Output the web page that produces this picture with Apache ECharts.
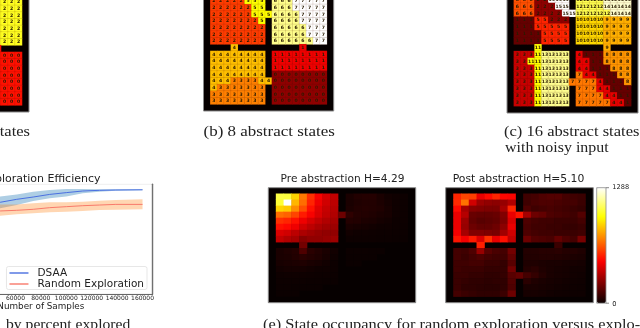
<!DOCTYPE html>
<html><head><meta charset="utf-8">
<style>html,body{margin:0;padding:0;background:#fff;overflow:hidden}#c{width:640px;height:328px;filter:blur(0.4px)}</style>
<script src="https://cdn.jsdelivr.net/npm/echarts@6/dist/echarts.min.js"></script>
</head><body><div id="c"></div>
<script>
// State grids: rows listed down to the bottom wall; '.' is a wall, hex digit is the abstract state.
const statesA = [
"..........22222222.","..........22222222.","..........22222222.","..........22222222.",
"..........22222222.","..........22222222.","..........22222222.",
"..............0....",
"..........00000000.","..........00000000.","..........00000000.","..........00000000.",
"..........00000000.","..........00000000.","..........00000000.","..........00000000.",
"..................."];
const statesB = [
".22222555.66677777.",".22222255.66677777.",".22222255566667777.",".22222225.66667777.",
".22222222.66666777.",".22222222.66666777.",".22222222.66666677.",
"....4.........1....",
".44444444.11111111.",".44444444.11111111.",".44444444.11111111.",".44444444.00000000.",
".44433334400000000.",".43333333.00000000.",".33333333.00000000.",".33333333.00000000.",
"..................."];
const statesC = [
".66622fff.cccceeee.",".666222ff.cccceeee.",".6662222ffccccceee.",".11155222.aaaa9999.",
".11155555.aaaa9999.",".11115555.aaaa9999.",".11115555.aaaa9999.",
"....b.........9....",
".333bdddd.41118888.",".33bbdddd.44118888.",".333bdddd.44111888.",".333bdddd.74411188.",
".333bdddd777741118.",".333bdddd.77744111.",".333bdddd.77774411.",".333bdddd.77777441.",
"..................."];
const coloursA = {0:"#ff1000",2:"#ffff20"};
const coloursB = ["#8f0000","#f00000","#ff3c00","#ff8000","#ffc000","#ffff00","#ffff8c","#ffffff"];
const coloursC = ["#300000","#650000","#8f0000","#c80000","#e80000","#ff2400","#ff5000","#ff7800","#ff9600","#ffb000","#ffd800","#ffff00","#ffff50","#ffff90","#ffffd0","#ffffff"];

// Exploration efficiency
const samples  = [40000,48000,61000,74000,87000,100000,113000,126000,139000,160000];
const dsaaMean = [82.7,83.6,86.3,88.4,90.8,92.4,93.9,94.5,94.8,95.0];
const dsaaHigh = [87.2,88.8,90.8,93.3,94.8,95.7,95.7,95.4,95.4,95.4];
const dsaaLow  = [76.6,78.1,81.1,84.8,87.2,88.8,91.8,93.3,94.2,94.5];
const randMean = [75.3,75.7,76.3,77.2,78.7,79.6,80.5,81.1,81.7,81.7];
const randHigh = [81.4,81.7,81.7,82.7,83.6,83.6,84.2,85.1,85.7,86.3];
const randLow  = [70.8,71.4,72.6,73.5,74.5,75.0,75.6,76.6,76.9,77.2];
const sampleTicks = [0,20000,40000,60000,80000,100000,120000,140000,160000];

// State occupancy
const occupancyPre = [
[0,0,0,0,0,0,0,0,0,0,0,0,0,0,0,0,0,0,0],
[0,1050,1040,880,700,560,460,390,350,0,30,45,50,50,30,15,10,5,0],
[0,1030,1288,820,680,540,440,380,340,0,30,40,45,45,35,20,10,5,0],
[0,880,860,740,620,500,410,360,330,0,35,45,50,45,40,25,10,5,0],
[0,680,660,600,520,460,400,350,320,190,70,50,45,40,30,25,10,5,0],
[0,560,540,500,440,390,350,320,300,0,50,45,35,30,20,15,5,5,0],
[0,500,480,440,380,340,310,290,280,0,30,25,20,15,10,10,5,3,0],
[0,400,380,340,310,290,270,260,260,0,15,10,10,8,5,5,3,3,0],
[0,350,320,300,240,260,260,270,280,0,5,5,5,5,3,3,2,2,0],
[0,0,0,0,200,0,0,0,0,0,0,0,0,0,0,0,0,0,0],
[0,30,40,50,130,60,45,30,15,0,3,3,3,2,2,0,0,0,0],
[0,30,35,45,60,50,40,25,10,0,2,2,2,2,0,0,0,0,0],
[0,25,30,35,40,30,25,15,5,0,2,2,0,0,0,0,0,0,0],
[0,15,20,20,20,15,10,10,5,0,0,0,0,0,0,0,0,0,0],
[0,8,10,10,10,8,5,5,3,0,0,0,0,0,0,0,0,0,0],
[0,5,5,5,5,3,3,2,2,0,0,0,0,0,0,0,0,0,0],
[0,3,3,2,2,2,2,0,0,0,0,0,0,0,0,0,0,0,0],
[0,2,2,2,0,0,0,0,0,0,0,0,0,0,0,0,0,0,0],
[0,0,0,0,0,0,0,0,0,0,0,0,0,0,0,0,0,0,0]];
const occupancyPost = [
[0,0,0,0,0,0,0,0,0,0,0,0,0,0,0,0,0,0,0],
[0,540,600,590,430,490,540,480,470,0,100,110,130,140,140,110,100,90,0],
[0,550,690,380,280,260,250,270,320,0,100,120,130,130,120,110,110,90,0],
[0,490,300,240,230,220,220,300,540,0,130,100,110,120,110,100,90,80,0],
[0,430,330,180,170,170,180,230,430,510,300,190,170,130,120,110,100,140,0],
[0,430,280,170,150,160,170,220,400,0,130,110,100,100,90,90,90,110,0],
[0,430,270,190,170,170,190,250,430,0,120,100,100,90,90,80,80,90,0],
[0,450,300,230,230,220,210,290,380,0,130,110,100,100,90,90,90,100,0],
[0,510,450,520,400,560,430,500,350,0,190,140,130,120,170,130,110,210,0],
[0,0,0,0,530,0,0,0,0,0,0,0,0,0,90,0,0,0,0],
[0,110,100,130,270,150,120,110,200,0,50,50,55,55,60,50,50,40,0],
[0,110,90,110,130,110,100,100,170,0,45,45,50,50,45,40,35,30,0],
[0,100,100,110,110,90,90,80,150,0,40,40,35,30,30,25,25,20,0],
[0,100,90,90,90,80,80,80,200,0,50,60,40,30,25,20,15,15,0],
[0,90,90,80,80,70,70,80,150,170,110,80,50,30,25,20,15,12,0],
[0,90,80,70,70,65,70,70,140,0,60,40,30,25,20,15,12,10,0],
[0,90,70,70,65,60,60,70,130,0,30,30,25,20,15,12,10,8,0],
[0,110,90,80,70,70,70,90,190,0,25,25,20,15,12,10,8,8,0],
[0,0,0,0,0,0,0,0,0,0,0,0,0,0,0,0,0,0,0]];
const occupancyMax = 1288;

const cellIndex = Array.from({length:19},(_,i)=>String(i));
const black = "#060000";

function hot(t){
  const c=v=>Math.round(255*Math.max(0,Math.min(1,v)));
  return `rgb(${c(0.04+t/0.365*0.96)},${c((t-0.365)/0.381)},${c((t-0.746)/0.254)})`;
}
const hotStops = Array.from({length:41},(_,i)=>hot(i/40));

function stateCells(rows, colours){
  const out=[], first=19-rows.length;
  rows.forEach((row,r)=>{[...row].forEach((ch,c)=>{
    if(ch==='.')return;
    const s=parseInt(ch,16);
    out.push({value:[c,first+r,s],itemStyle:{color:colours[s]}});
  });});
  return out;
}
function occupancyCells(rows){
  const out=[];
  rows.forEach((row,r)=>row.forEach((v,c)=>{ if(v>0) out.push([c,r,v]); }));
  return out;
}
function zip(xs,ys){return xs.map((x,i)=>[x,ys[i]]);}

const grids=[
 {left:-104,top:-14.7,width:133,height:126.7},
 {left:203.5,top:-15.7,width:130.2,height:126.7},
 {left:507,top:-17.6,width:131,height:130.6},
 {left:-71,top:184.3,width:223.7,height:109.7},
 {left:268.3,top:187.7,width:147.4,height:115},
 {left:445.7,top:187.7,width:147.6,height:115}
].map((g,i)=>Object.assign({show:true,outerBoundsMode:"none",containLabel:false,backgroundColor:i===3?"#fff":black,borderWidth:i===3?0.6:1,borderColor:i===3?"#e2e2e2":"#8a8a8a"},g));

function catAxis(i,inv){return {type:"category",gridIndex:i,data:cellIndex,show:false,inverse:!!inv};}
const xAxes=[catAxis(0),catAxis(1),catAxis(2),
 {type:"value",gridIndex:3,min:-8000,max:168000,splitLine:{show:false},
  axisLine:{show:true,onZero:false,lineStyle:{color:"#666",width:1}},
  axisTick:{show:true,length:2,lineStyle:{color:"#666",width:0.6},customValues:sampleTicks},
  axisLabel:{fontSize:6,color:"#222",margin:1.5,fontFamily:"DejaVu Sans",customValues:sampleTicks,hideOverlap:false,formatter:v=>String(v)},
  name:"Number of Samples",nameLocation:"middle",nameGap:7,
  nameTextStyle:{fontSize:8.8,color:"#222",fontFamily:"DejaVu Sans"}},
 catAxis(4),catAxis(5)];
const yAxes=[catAxis(0,1),catAxis(1,1),catAxis(2,1),
 {type:"value",gridIndex:3,min:0,max:100,position:"right",splitLine:{show:false},axisTick:{show:false},axisLabel:{show:false},
  axisLine:{show:true,onZero:false,lineStyle:{color:"#707070",width:1.4}}},
 catAxis(4,1),catAxis(5,1)];

function heat(i,data,label){
  return {type:"heatmap",xAxisIndex:i,yAxisIndex:i,data:data,progressive:0,
    itemStyle:label?{borderColor:"rgba(90,30,0,0.22)",borderWidth:0.5}:{},
    emphasis:{disabled:true},
    label:label?{show:true,fontSize:4.6,color:"#2a1a00",fontFamily:"DejaVu Sans",fontWeight:"bold",formatter:p=>String(p.value[2])}:{show:false}};
}
// Shaded spread between a low and a high curve, drawn through the axis scales.
function band(low,high,colour,key){
  const rows=samples.map((x,i)=>[x,low[i],high[i]]);
  return {type:"custom",name:key,xAxisIndex:3,yAxisIndex:3,data:rows,silent:true,clip:true,z:2,
    encode:{x:0,y:[1,2]},
    renderItem:(params,api)=>{
      if(params.dataIndex!==0)return null;
      const lower=rows.map(r=>api.coord([r[0],r[1]]));
      const upper=rows.map(r=>api.coord([r[0],r[2]])).reverse();
      return {type:"polygon",shape:{points:lower.concat(upper)},style:{fill:colour},silent:true};
    }};
}
function meanLine(name,ys,colour){
  return {type:"line",name:name,xAxisIndex:3,yAxisIndex:3,data:zip(samples,ys),symbol:"none",z:5,itemStyle:{color:colour},lineStyle:{color:colour,width:1}};
}
const series=[
 heat(0,stateCells(statesA,coloursA),true),
 heat(1,stateCells(statesB,coloursB),true),
 heat(2,stateCells(statesC,coloursC),true),
 band(dsaaLow,dsaaHigh,"rgba(31,119,180,0.36)","dsaaBand"),
 band(randLow,randHigh,"rgba(255,127,14,0.32)","randBand"),
 meanLine("DSAA",dsaaMean,"#4a6fe0"),
 meanLine("Random Exploration",randMean,"#f8796a"),
 heat(4,occupancyCells(occupancyPre),false),
 heat(5,occupancyCells(occupancyPost),false)
];

function label(text,x,y,o){
  o=o||{};
  return {type:"text",x:x,y:y,scaleX:o.sx||1,z:20,style:{text:text,fill:o.fill||"#222",align:o.align||"left",verticalAlign:"middle",
    font:`${o.size||10}px ${o.family||"DejaVu Sans"}`}};
}
const serif="Liberation Serif";
const graphics=[
 label("(a) 4 abstract states",30,132,{size:14.5,family:serif,sx:1.14,align:"right"}),
 label("(b) 8 abstract states",203.5,132,{size:14.5,family:serif,sx:1.17}),
 label("(c) 16 abstract states",504,132,{size:14.5,family:serif,sx:1.14}),
 label("with noisy input",505,148,{size:14.5,family:serif,sx:1.10}),
 label("by percent explored",6,325,{size:14.5,family:serif,sx:1.08}),
 label("(e) State occupancy for random exploration versus explo-",263,325,{size:14.5,family:serif,sx:1.13}),
 label("Exploration Efficiency",41,179,{size:11,align:"center"}),
 label("Pre abstraction H=4.29",342.5,179,{size:10.6,align:"center"}),
 label("Post abstraction H=5.10",518.5,179,{size:10.8,align:"center"}),
 label("1288",612.3,187,{size:6.6}),
 label("0",612.3,304,{size:6.6}),
 {type:"rect",z:20,shape:{x:596.7,y:187.7,width:9.3,height:115.5},style:{fill:"none",stroke:"#8a8a8a",lineWidth:0.8}},
 {type:"line",z:20,shape:{x1:606,y1:187.7,x2:609,y2:187.7},style:{stroke:"#555",lineWidth:0.7}},
 {type:"line",z:20,shape:{x1:606,y1:303.2,x2:609,y2:303.2},style:{stroke:"#555",lineWidth:0.7}}
];

const chart=echarts.init(document.getElementById("c"),null,{renderer:"canvas",width:640,height:328});
chart.setOption({
 animation:false,backgroundColor:"#fff",
 grid:grids,xAxis:xAxes,yAxis:yAxes,series:series,graphic:graphics,
 legend:{data:["DSAA","Random Exploration"],orient:"vertical",right:493,top:266.5,itemWidth:19,itemHeight:1.4,itemGap:0,icon:"rect",
   padding:[1,3,0,3],borderColor:"#dcdcdc",borderWidth:0.7,borderRadius:2,backgroundColor:"#fff",
   textStyle:{fontSize:10.5,color:"#222",fontFamily:"DejaVu Sans",padding:[0,0,0,4]}},
 visualMap:{type:"continuous",seriesIndex:[series.length-2,series.length-1],min:0,max:occupancyMax,calculable:false,
   left:596.7,top:187.7,itemWidth:9.3,itemHeight:115.5,padding:0,text:null,showLabel:false,
   inRange:{color:hotStops},hoverLink:false}
});
</script></body></html>
